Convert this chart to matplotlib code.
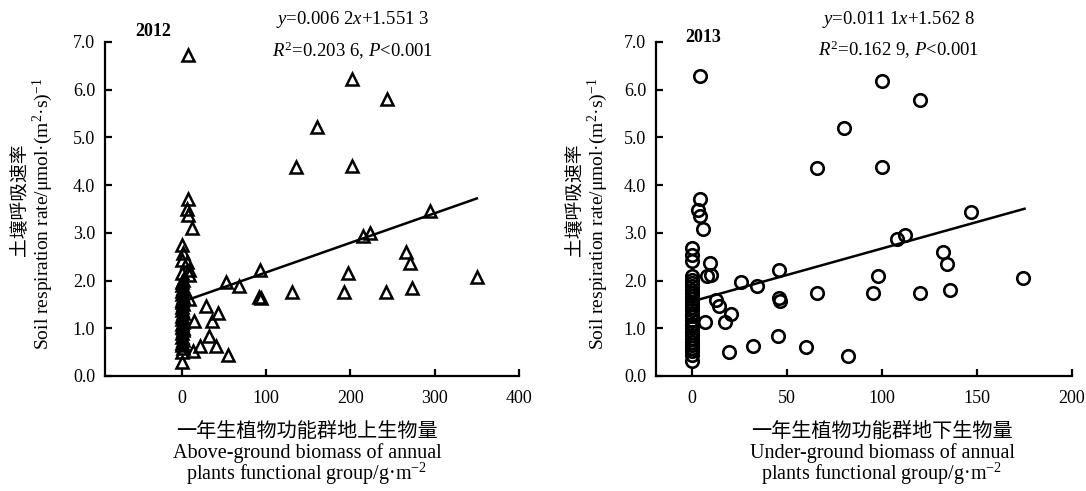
import numpy as np
import matplotlib
matplotlib.use("Agg")
import matplotlib.pyplot as plt

plt.rcParams['font.family'] = ['Liberation Serif', 'Noto Sans CJK SC']
plt.rcParams['mathtext.fontset'] = 'custom'
plt.rcParams['mathtext.rm'] = 'Liberation Serif'
plt.rcParams['mathtext.it'] = 'Liberation Serif:italic'

# ----------------------------
# 2012: above-ground biomass
# ----------------------------
x12 = [7, 202, 243, 161, 135, 202, 8, 6, 8, 12, 294, 215, 223, 266, 271, 197, 350,
       93, 53, 68, 92, 94, 131, 192, 242, 273, 29, 43, 15, 36, 32, 22, 41, 13, 55,
       9, 6, 9, 9]
y12 = [6.73, 6.22, 5.80, 5.21, 4.37, 4.40, 3.72, 3.49, 3.37, 3.11, 3.45, 2.94, 3.00, 2.60, 2.37, 2.16, 2.08,
       2.23, 1.98, 1.89, 1.66, 1.64, 1.76, 1.76, 1.76, 1.85, 1.47, 1.33, 1.16, 1.16, 0.84, 0.63, 0.63, 0.53, 0.44,
       1.62, 2.38, 2.23, 2.12]
# points stacked near x = 0
col12_x = [0, 0, 1, 0, 0, 1, 0, 0, 1, 0, 0, 1, 0, 0, 1, 0,
           0, 1, 0, 0, 1, 0, 0, 1, 0, 0, 1, 0, 0, 1, 0, 1]
col12_y = [0.30, 0.50, 0.58, 0.65, 0.70, 0.76, 0.82, 0.90, 0.96, 1.02, 1.08, 1.14, 1.20, 1.26, 1.32, 1.38,
           1.44, 1.50, 1.55, 1.60, 1.66, 1.72, 1.78, 1.84, 1.90, 1.96, 2.02, 2.16, 2.44, 2.58, 2.75, 1.00]

# ----------------------------
# 2013: under-ground biomass
# ----------------------------
x13 = [4, 100, 120, 80, 66, 100, 4, 3, 4, 6, 147, 108, 112, 132, 134, 98, 174,
       66, 95, 120, 136, 60, 82, 46, 46.5, 46, 26, 34, 9.6, 7.7, 10.2, 12.8, 14, 20.7, 17.5, 6.7,
       45, 32, 19.3]
y13 = [6.29, 6.18, 5.78, 5.19, 4.35, 4.38, 3.72, 3.47, 3.35, 3.08, 3.44, 2.88, 2.96, 2.59, 2.35, 2.09, 2.06,
       1.74, 1.74, 1.74, 1.81, 0.61, 0.42, 1.64, 1.58, 2.23, 1.98, 1.88, 2.37, 2.09, 2.12, 1.60, 1.46, 1.30, 1.14, 1.14,
       0.83, 0.62, 0.51]
col13_x = [0, 0, 0, 0, 0, 0, 0, 0, 0, 0, 0, 0, 0, 0, 0, 0,
           0, 0, 0, 0, 0, 0, 0, 0, 0, 0, 0, 0, 0, 0]
col13_y = [0.32, 0.45, 0.52, 0.58, 0.65, 0.72, 0.78, 0.85, 0.92, 1.00, 1.05, 1.10, 1.18, 1.25, 1.30, 1.38,
           1.45, 1.50, 1.55, 1.62, 1.68, 1.75, 1.80, 1.88, 1.95, 2.02, 2.10, 2.40, 2.54, 2.68]

# regression lines
slope12, icpt12, xmax12 = 0.0062, 1.5513, 350
slope13, icpt13, xmax13 = 0.0111, 1.5628, 175

yticks = [0, 1, 2, 3, 4, 5, 6, 7]
xticks12 = [0, 100, 200, 300, 400]
xticks13 = [0, 50, 100, 150, 200]

W, H = 1086, 491
fig = plt.figure(figsize=(W / 100, H / 100), dpi=100)

def fx(px):
    return px / W

def fy(py):
    return 1 - py / H

ax1 = fig.add_axes([fx(105), fy(376), fx(414), (376 - 42) / H])
ax2 = fig.add_axes([fx(656), fy(376), fx(416), (376 - 42) / H])

def style_axes(ax, xlim, xticks):
    ax.set_xlim(*xlim)
    ax.set_ylim(0, 7)
    ax.set_xticks(xticks)
    ax.set_yticks(yticks)
    ax.set_yticklabels([f"{v:.1f}" for v in yticks])
    for s in ["top", "right"]:
        ax.spines[s].set_visible(False)
    for s in ["left", "bottom"]:
        ax.spines[s].set_linewidth(1.6)
    ax.tick_params(direction="in", length=5, width=1.6, labelsize=13, pad=7)
    ax.tick_params(axis="x", pad=10)

style_axes(ax1, (-91, 400), xticks12)
style_axes(ax2, (-19, 200), xticks13)

tri = dict(linestyle="none", marker="^", markersize=8.5, markerfacecolor="none",
           markeredgecolor="black", markeredgewidth=1.8, zorder=3)
ax1.plot(col12_x, col12_y, **tri)
ax1.plot(x12, y12, **tri)
lx = np.array([0, xmax12])
ax1.plot(lx, slope12 * lx + icpt12, color="black", linewidth=1.8, zorder=2)

circ = dict(linestyle="none", marker="o", markersize=9, markerfacecolor="none",
            markeredgecolor="black", markeredgewidth=1.9, zorder=3)
ax2.plot(col13_x, col13_y, **circ)
ax2.plot(x13, y13, **circ)
lx = np.array([0, xmax13])
ax2.plot(lx, slope13 * lx + icpt13, color="black", linewidth=1.8, zorder=2)

# year and regression text
fig.text(fx(153), fy(32), "2012", fontsize=13, fontweight="bold", ha="center", va="center")
fig.text(fx(703), fy(37), "2013", fontsize=13, fontweight="bold", ha="center", va="center")

fig.text(fx(353), fy(20), r"$y$=0.006 2$x$+1.551 3", fontsize=13.5, ha="center", va="center")
fig.text(fx(353), fy(51), r"$R^2$=0.203 6, $P$<0.001", fontsize=13.5, ha="center", va="center")
fig.text(fx(899), fy(20), r"$y$=0.011 1$x$+1.562 8", fontsize=13.5, ha="center", va="center")
fig.text(fx(899), fy(50), r"$R^2$=0.162 9, $P$<0.001", fontsize=13.5, ha="center", va="center")

# axis labels
ylab_cn = "土壤呼吸速率"
ylab_en = "Soil respiration rate/μmol·(m$^2$·s)$^{-1}$"
for xc_cn, xc_en in [(20, 43), (575, 598)]:
    fig.text(fx(xc_cn), fy(200), ylab_cn, fontsize=13.5, rotation=90, ha="center", va="center")
    fig.text(fx(xc_en), fy(214), ylab_en, fontsize=14, rotation=90, ha="center", va="center")

xlab_lines = {
    307: ["一年生植物功能群地上生物量", "Above-ground biomass of annual",
          "plants functional group/g·m$^{-2}$"],
    882: ["一年生植物功能群地下生物量", "Under-ground biomass of annual",
          "plants functional group/g·m$^{-2}$"],
}
for xc, lines in xlab_lines.items():
    fig.text(fx(xc), fy(432), lines[0], fontsize=14.5, ha="center", va="center")
    fig.text(fx(xc), fy(453), lines[1], fontsize=14.5, ha="center", va="center")
    fig.text(fx(xc), fy(474), lines[2], fontsize=14.5, ha="center", va="center")

fig.savefig("out.png", dpi=100)
